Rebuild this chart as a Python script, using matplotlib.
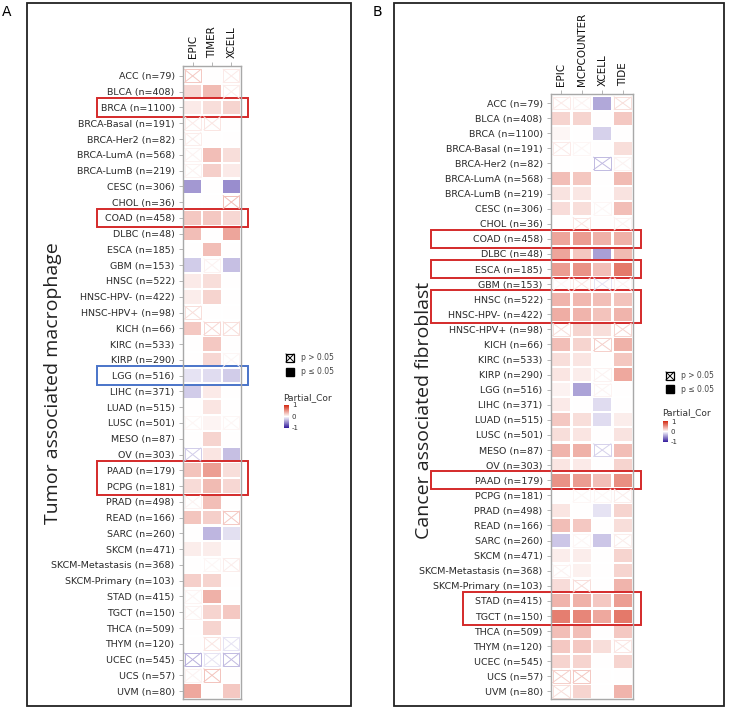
import matplotlib
matplotlib.use('Agg')
from matplotlib import pyplot as plt
from matplotlib.colors import LinearSegmentedColormap, Normalize
from matplotlib.patches import Rectangle
from matplotlib.transforms import blended_transform_factory
from matplotlib.cm import ScalarMappable

plt.rcParams['axes.unicode_minus'] = False

# Row labels (same for both panels)
cancers = ['ACC (n=79)', 'BLCA (n=408)', 'BRCA (n=1100)', 'BRCA-Basal (n=191)', 'BRCA-Her2 (n=82)',
           'BRCA-LumA (n=568)', 'BRCA-LumB (n=219)', 'CESC (n=306)', 'CHOL (n=36)', 'COAD (n=458)',
           'DLBC (n=48)', 'ESCA (n=185)', 'GBM (n=153)', 'HNSC (n=522)', 'HNSC-HPV- (n=422)',
           'HNSC-HPV+ (n=98)', 'KICH (n=66)', 'KIRC (n=533)', 'KIRP (n=290)', 'LGG (n=516)',
           'LIHC (n=371)', 'LUAD (n=515)', 'LUSC (n=501)', 'MESO (n=87)', 'OV (n=303)',
           'PAAD (n=179)', 'PCPG (n=181)', 'PRAD (n=498)', 'READ (n=166)', 'SARC (n=260)',
           'SKCM (n=471)', 'SKCM-Metastasis (n=368)', 'SKCM-Primary (n=103)', 'STAD (n=415)',
           'TGCT (n=150)', 'THCA (n=509)', 'THYM (n=120)', 'UCEC (n=545)', 'UCS (n=57)', 'UVM (n=80)']

methods_a = ['EPIC', 'TIMER', 'XCELL']
methods_b = ['EPIC', 'MCPCOUNTER', 'XCELL', 'TIDE']

# partial correlation per row, one value per method
cor_a = [[0.25, 0, 0.1], [0.18, 0.32, 0.08], [0.1, 0.15, 0.2], [0.1, 0.12, 0], [0.08, 0, 0],
         [0.06, 0.3, 0.15], [0.06, 0.22, 0.1], [-0.45, 0, -0.5], [0, 0, 0.3], [0.25, 0.25, 0.18],
         [0.3, 0, 0.42], [0, 0.3, 0], [-0.22, 0.06, -0.28], [0.1, 0.15, 0], [0.08, 0.2, 0],
         [0.15, 0, 0], [0.25, 0.18, 0.15], [0, 0.25, 0], [0, 0.18, 0.04], [-0.12, -0.15, -0.22],
         [-0.22, 0.1, 0], [0, 0.12, 0], [0.04, 0.05, 0.04], [0, 0.2, 0], [-0.22, 0.12, -0.28],
         [0.28, 0.45, 0.15], [0.17, 0.32, 0.18], [0.06, 0.3, 0], [0.27, 0.22, 0.25], [0, -0.32, -0.14],
         [0.08, 0.08, 0], [0, 0.04, 0.08], [0.22, 0.2, 0], [0.05, 0.36, 0], [0.06, 0.2, 0.25],
         [0, 0.2, 0], [0, 0.12, -0.12], [-0.35, -0.12, -0.3], [0.06, 0.28, 0], [0.4, 0, 0.25]]
# 1 = p <= 0.05, 0 = p > 0.05
sig_a = [[0, 1, 0], [1, 1, 0], [1, 1, 1], [0, 0, 1], [0, 1, 1],
         [0, 1, 1], [0, 1, 1], [1, 1, 1], [1, 1, 0], [1, 1, 1],
         [1, 1, 1], [1, 1, 1], [1, 0, 1], [1, 1, 1], [1, 1, 1],
         [0, 1, 1], [1, 0, 0], [1, 1, 1], [1, 1, 0], [1, 1, 1],
         [1, 1, 1], [1, 1, 1], [0, 1, 0], [1, 1, 1], [0, 1, 1],
         [1, 1, 1], [1, 1, 1], [0, 1, 1], [1, 1, 0], [1, 1, 1],
         [1, 1, 1], [1, 0, 0], [1, 1, 1], [0, 1, 1], [0, 1, 1],
         [1, 1, 1], [1, 0, 0], [0, 0, 0], [0, 0, 1], [1, 1, 1]]

cor_b = [[0.1, 0.06, -0.38, 0.15], [0.2, 0.2, 0, 0.25], [0.04, 0, -0.2, 0], [0.1, 0.04, 0, 0.15],
         [0, 0, -0.3, 0.06], [0.3, 0.26, 0, 0.32], [0.13, 0.11, 0, 0.13], [0.16, 0.15, 0.04, 0.3],
         [0, 0.12, 0, 0.06], [0.42, 0.46, 0.36, 0.36], [0.42, 0.26, -0.42, 0.32], [0.46, 0.5, 0.3, 0.62],
         [0.04, 0.12, -0.12, 0.06], [0.35, 0.33, 0.3, 0.28], [0.38, 0.35, 0.28, 0.35], [0.15, 0.2, 0.15, 0.2],
         [0.3, 0.2, 0.22, 0.36], [0.15, 0.12, 0, 0.26], [0.12, 0.08, 0.06, 0.4], [0.06, -0.4, 0.05, 0],
         [0.1, 0, -0.15, 0], [0.25, 0.15, -0.15, 0.08], [0.15, 0.12, 0, 0.13], [0.35, 0.36, -0.2, 0.3],
         [0.12, 0.1, 0, 0.2], [0.5, 0.46, 0.3, 0.52], [0, 0.04, 0.04, 0.08], [0.12, 0, -0.12, 0.2],
         [0.3, 0.25, 0, 0.15], [-0.25, 0.04, -0.25, 0.08], [0.08, 0.08, 0, 0.2], [0.06, 0.07, 0, 0.2],
         [0.16, 0.15, 0, 0.35], [0.35, 0.36, 0.25, 0.45], [0.6, 0.56, 0.4, 0.62], [0.3, 0.3, 0, 0.25],
         [0.25, 0.25, 0.15, 0.12], [0.2, 0.2, 0, 0.2], [0.22, 0.25, 0, 0], [0.15, 0.2, 0, 0.35]]
sig_b = [[0, 0, 1, 0], [1, 1, 1, 1], [1, 1, 1, 1], [0, 0, 1, 1],
         [1, 1, 0, 0], [1, 1, 1, 1], [1, 1, 1, 1], [1, 1, 0, 1],
         [1, 0, 1, 0], [1, 1, 1, 1], [1, 1, 1, 1], [1, 1, 1, 1],
         [0, 0, 0, 0], [1, 1, 1, 1], [1, 1, 1, 1], [0, 1, 1, 0],
         [1, 1, 0, 1], [1, 1, 1, 1], [1, 1, 0, 1], [1, 1, 0, 1],
         [1, 1, 1, 1], [1, 1, 1, 1], [1, 1, 1, 1], [1, 1, 0, 1],
         [1, 1, 1, 1], [1, 1, 1, 1], [1, 0, 0, 0], [1, 1, 1, 1],
         [1, 1, 1, 1], [1, 0, 1, 0], [1, 1, 1, 1], [0, 1, 1, 1],
         [1, 0, 1, 1], [1, 1, 1, 1], [1, 1, 1, 1], [1, 1, 1, 1],
         [1, 1, 1, 0], [1, 1, 1, 1], [0, 0, 1, 1], [0, 1, 1, 1]]

# highlighted rows: (first row, last row, colour)
boxes_a = [(2, 2, '#d42a2a'), (9, 9, '#d42a2a'), (19, 19, '#4a74c9'), (25, 26, '#d42a2a')]
boxes_b = [(9, 9), (11, 11), (13, 14), (25, 25), (33, 34)]

cmap = LinearSegmentedColormap.from_list('pc', ['#321a9c', '#ffffff', '#d42810'])
norm = Normalize(-1, 1)

W, H = 732, 709
fig = plt.figure(figsize=(W / 100, H / 100), dpi=100)


def px_axes(x0, y0, x1, y1):
    return fig.add_axes([x0 / W, 1 - y1 / H, (x1 - x0) / W, (y1 - y0) / H])


def draw_heat(ax, methods, cor, sig, top_pad, bot_pad):
    for i, row in enumerate(cor):
        for j, v in enumerate(row):
            c = cmap(norm(v))
            if sig[i][j]:
                ax.add_patch(Rectangle((j - 0.44, i - 0.43), 0.88, 0.86, facecolor=c, edgecolor='none'))
            else:
                x0, x1, y0, y1 = j - 0.42, j + 0.42, i - 0.41, i + 0.41
                ax.add_patch(Rectangle((x0, y0), x1 - x0, y1 - y0, facecolor='none', edgecolor=c, lw=0.7))
                ax.plot([x0, x1], [y0, y1], color=c, lw=0.7)
                ax.plot([x0, x1], [y1, y0], color=c, lw=0.7)
    ax.set_xlim(-0.5, len(methods) - 0.5)
    ax.set_ylim(len(cor) - 0.5 + bot_pad, -0.5 - top_pad)
    ax.set_yticks(range(len(cancers)))
    ax.set_yticklabels(cancers, fontsize=6.8, color='#2a2a2a')
    ax.xaxis.tick_top()
    ax.set_xticks(range(len(methods)))
    ax.set_xticklabels(methods, rotation=90, fontsize=7.5, color='#111111')
    ax.tick_params(axis='both', length=3, width=0.6, color='#aaaaaa', pad=3)
    for s in ax.spines.values():
        s.set_color('#a8a8a8')
        s.set_linewidth(1.0)


def add_box(ax, r0, r1, x0, x1, color):
    tr = blended_transform_factory(ax.transAxes, ax.transData)
    ax.add_patch(Rectangle((x0, r0 - 0.58), x1 - x0, r1 - r0 + 1.16, transform=tr, fill=False,
                           edgecolor=color, lw=1.4, clip_on=False))


def add_legend(x, y_gt, y_le, cb_box, title_xy):
    ax = fig.add_axes([0, 0, 1, 1], facecolor='none')
    ax.set_xlim(0, W)
    ax.set_ylim(H, 0)
    ax.axis('off')
    ax.add_patch(Rectangle((x - 4, y_gt - 4), 8, 8, facecolor='white', edgecolor='black', lw=0.9))
    ax.plot([x - 4, x + 4], [y_gt - 4, y_gt + 4], color='black', lw=0.7)
    ax.plot([x - 4, x + 4], [y_gt + 4, y_gt - 4], color='black', lw=0.7)
    ax.add_patch(Rectangle((x - 4, y_le - 4), 8, 8, facecolor='black', edgecolor='black'))
    ax.text(x + 11, y_gt, 'p > 0.05', fontsize=5.5, color='#444444', va='center')
    ax.text(x + 11, y_le, 'p \u2264 0.05', fontsize=5.5, color='#444444', va='center')
    ax.text(title_xy[0], title_xy[1], 'Partial_Cor', fontsize=6.5, color='#333333', va='center')
    cax = px_axes(*cb_box)
    cb = fig.colorbar(ScalarMappable(norm=norm, cmap=cmap), cax=cax, ticks=[-1, 0, 1])
    cb.outline.set_visible(False)
    cb.ax.tick_params(labelsize=5, length=0, pad=2, colors='#333333')
    return ax


# outer frames and panel letters
frame = fig.add_axes([0, 0, 1, 1], facecolor='none')
frame.set_xlim(0, W)
frame.set_ylim(H, 0)
frame.axis('off')
frame.add_patch(Rectangle((27, 3), 324, 703, fill=False, edgecolor='#222222', lw=1.3))
frame.add_patch(Rectangle((394, 3), 330, 703, fill=False, edgecolor='#222222', lw=1.3))
frame.text(2, 12, 'A', fontsize=10, va='center')
frame.text(373, 12, 'B', fontsize=10, va='center')
frame.text(53, 383, 'Tumor associated macrophage', rotation=90, fontsize=14,
           ha='center', va='center', family='Open Sans', color='#222222')
frame.text(424, 410, 'Cancer associated fibroblast', rotation=90, fontsize=14,
           ha='center', va='center', family='Open Sans', color='#222222')

# panel A
ax_a = px_axes(183, 66, 241, 699)
draw_heat(ax_a, methods_a, cor_a, sig_a, 0.13, 0.0)
for r0, r1, col in boxes_a:
    add_box(ax_a, r0, r1, -1.48, 1.12, col)
add_legend(290, 358, 372, (284, 405, 289, 428), (283, 398))

# panel B
ax_b = px_axes(551, 94, 633, 699)
draw_heat(ax_b, methods_b, cor_b, sig_b, 0.1, 0.0)
for r0, r1 in boxes_b:
    x0 = -1.07 if r0 == 33 else -1.46
    add_box(ax_b, r0, r1, x0, 1.1, '#d42a2a')
add_legend(670, 376, 389, (663, 421, 668, 442), (662, 413))

plt.savefig('out.png', dpi=100)
